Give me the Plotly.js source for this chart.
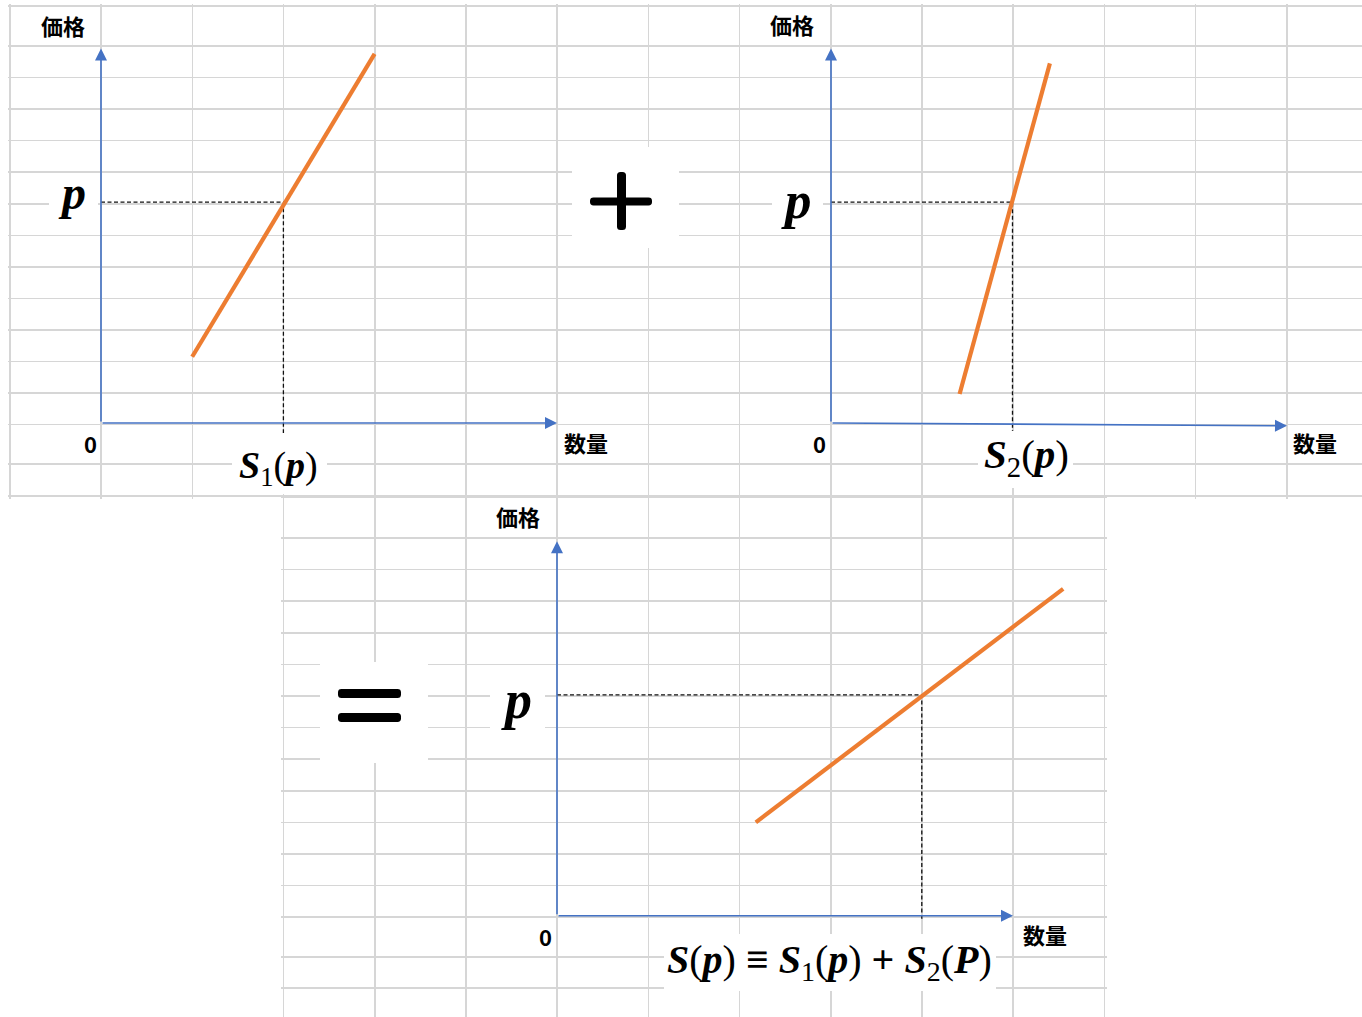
<!DOCTYPE html>
<html>
<head>
<meta charset="utf-8">
<script src="https://cdn.plot.ly/plotly-3.0.1.min.js"></script>
<style>
  html, body { margin: 0; padding: 0; background: #fff; }
  #chart { width: 1362px; height: 1017px; }
</style>
</head>
<body>
<div id="chart"></div>
<script>
// supply curves, quantity vs price (1 unit = one spreadsheet cell)
const qtyS1 = [1.0, 3.0];
const priceS1 = [2.1, 11.7];
const qtyS2 = [1.41, 2.4];
const priceS2 = [0.92, 11.4];
const qtySum = [2.18, 5.55];
const priceSum = [2.96, 10.36];

// the price p and the quantity each curve supplies at p
const pMark = 7;
const qAtP = [2.0, 1.99, 4.0];
const dashEnd = [-0.35, -0.25, -0.1];

// arrow axes
const axisQMax = 5;
const axisPMax = 11.87;
const xAxisDrop = [0, -0.09, 0];

const W = 1362, H = 1017;
const COL = 91.2, ROW = 31.55;
const ORANGE = '#ED7D31';
const BLUE = '#4472C4';
const GRID = '#d6d6d6';
const JP = '"Noto Sans CJK JP", "Noto Sans", sans-serif';
const SERIF = '"Liberation Serif", "DejaVu Serif", serif';

// pixel -> paper
const X = px => px / W;
const Y = py => 1 - py / H;

// spreadsheet cell edges
const topCols = [];
for (let k = 0; k <= 14; k++) topCols.push(10 + COL * k);
const topRows = [6, 46];
for (let k = 1; k <= 12; k++) topRows.push(46 + ROW * k);
topRows.push(464, 496);

const botCols = [];
for (let k = 0; k <= 9; k++) botCols.push(283.6 + COL * k);
const botRows = [497.5, 538];
for (let k = 1; k <= 12; k++) botRows.push(538 + 31.6 * k);
botRows.push(956.7, 988.2);

function gridAxis(domain, range, vals) {
    return {
        domain: domain, range: range, tickvals: vals,
        showgrid: true, gridcolor: GRID, gridwidth: 1.6,
        showticklabels: false, ticks: '', zeroline: false, showline: false,
        fixedrange: true
    };
}

// chart axes placed so the origin lands on a given pixel
function chartX(x0, anchor) {
    return { domain: [0, 1], range: [-x0 / COL, (W - x0) / COL], visible: false, anchor: anchor, fixedrange: true };
}
function chartY(y0, anchor) {
    return { domain: [0, 1], range: [-(H - y0) / ROW, y0 / ROW], visible: false, anchor: anchor, fixedrange: true };
}

const charts = [
    { xa: 'x3', ya: 'y3', q: qtyS1, p: priceS1 },
    { xa: 'x4', ya: 'y4', q: qtyS2, p: priceS2 },
    { xa: 'x5', ya: 'y5', q: qtySum, p: priceSum }
];

const traces = [
    { x: [], y: [], xaxis: 'x', yaxis: 'y', type: 'scatter' },
    { x: [], y: [], xaxis: 'x2', yaxis: 'y2', type: 'scatter' }
];

charts.forEach((c, i) => {
    traces.push({
        x: [0, qAtP[i], qAtP[i]], y: [pMark, pMark, dashEnd[i]],
        xaxis: c.xa, yaxis: c.ya, type: 'scatter', mode: 'lines',
        line: { color: '#111', width: 1.3, dash: '4px,2.5px' }, cliponaxis: false
    });
    traces.push({
        x: c.q, y: c.p, xaxis: c.xa, yaxis: c.ya, type: 'scatter', mode: 'lines',
        line: { color: ORANGE, width: 4.2 }, cliponaxis: false
    });
});

const annotations = [];

// axis arrows
charts.forEach((c, i) => {
    const common = {
        xref: c.xa, yref: c.ya, axref: c.xa, ayref: c.ya, text: '',
        showarrow: true, arrowhead: 2, arrowsize: 1.5, arrowwidth: 1.6,
        arrowcolor: BLUE, standoff: 0, startstandoff: 0
    };
    annotations.push(Object.assign({}, common, { x: 0, y: axisPMax, ax: 0, ay: 0 }));
    annotations.push(Object.assign({}, common, { x: axisQMax, y: xAxisDrop[i], ax: 0, ay: 0 }));
});

function label(text, cx, cy, size, family) {
    annotations.push({
        xref: 'paper', yref: 'paper', x: X(cx), y: Y(cy),
        xanchor: 'center', yanchor: 'middle', showarrow: false,
        text: text, font: { family: family, size: size, color: '#000' }
    });
}

// cell texts
[[62.5, 25], [792, 24], [517.5, 516]].forEach(([x, y]) => label('<b>価格</b>', x, y, 22, JP));
[[585.5, 441.5], [1315, 441.5], [1044.5, 933.5]].forEach(([x, y]) => label('<b>数量</b>', x, y, 22, JP));
[[90, 443], [819, 443], [545, 935.5]].forEach(([x, y]) => label('<b>0</b>', x, y, 22, JP));

// math labels
const bp = '<b><i>p</i></b>';
const bS = '<b><i>S</i></b>';
label(bp, 72, 193, 48, SERIF);
label(bp, 796.5, 200, 53, SERIF);
label(bp, 516.5, 700, 54, SERIF);
label(bS + '<sub>1</sub>(' + bp + ')', 278.5, 468, 38, SERIF);
label(bS + '<sub>2</sub>(' + bp + ')', 1026, 457, 41, SERIF);
label(bS + '(' + bp + ') <b>≡</b> ' + bS + '<sub>1</sub>(' + bp + ') <b>+</b> ' + bS + '<sub>2</sub>(<b><i>P</i></b>)', 829.5, 962, 40, SERIF);

// white boxes behind pasted labels
function box(x0, y0, x1, y1) {
    return {
        type: 'rect', xref: 'paper', yref: 'paper', layer: 'above',
        x0: X(x0), x1: X(x1), y0: Y(y1), y1: Y(y0),
        fillcolor: '#fff', line: { width: 0 }
    };
}
// rounded black bar (for + and =)
function bar(x0, y0, x1, y1, r) {
    const pts = [
        ['M', x0 + r, y0], ['L', x1 - r, y0], ['Q', x1, y0, x1, y0 + r],
        ['L', x1, y1 - r], ['Q', x1, y1, x1 - r, y1], ['L', x0 + r, y1],
        ['Q', x0, y1, x0, y1 - r], ['L', x0, y0 + r], ['Q', x0, y0, x0 + r, y0]
    ];
    let d = '';
    pts.forEach(p => {
        d += p[0];
        for (let k = 1; k < p.length; k += 2) d += ' ' + X(p[k]).toFixed(5) + ',' + Y(p[k + 1]).toFixed(5);
        d += ' ';
    });
    return {
        type: 'path', xref: 'paper', yref: 'paper', layer: 'above', path: d + 'Z',
        fillcolor: '#000', line: { width: 0 }
    };
}

const shapes = [
    box(572, 147, 679, 248),
    box(320, 662, 428, 763),
    box(49, 175, 98, 233),
    box(772, 175, 823, 233),
    box(490, 666, 545, 757),
    box(232, 433, 327, 494),
    box(978, 431, 1073, 488),
    box(664, 934, 996, 991),
    bar(590, 197.5, 652, 205.5, 3.5),
    bar(617, 172, 626, 230, 3.5),
    bar(338, 689, 401, 698, 3.5),
    bar(338, 713, 401, 722, 3.5)
];

const layout = {
    width: W, height: H,
    margin: { l: 0, r: 0, t: 0, b: 0 },
    paper_bgcolor: '#fff', plot_bgcolor: 'rgba(0,0,0,0)',
    showlegend: false,
    xaxis: Object.assign(gridAxis([8 / W, 1], [8, W], topCols), { anchor: 'y' }),
    yaxis: Object.assign(gridAxis([1 - 499 / H, 1 - 4 / H], [499, 4], topRows), { anchor: 'x' }),
    xaxis2: Object.assign(gridAxis([281 / W, 1107 / W], [281, 1107], botCols), { anchor: 'y2' }),
    yaxis2: Object.assign(gridAxis([0, 1 - 495.5 / H], [H, 495.5], botRows), { anchor: 'x2' }),
    xaxis3: chartX(101, 'y3'), yaxis3: chartY(423, 'x3'),
    xaxis4: chartX(831, 'y4'), yaxis4: chartY(423, 'x4'),
    xaxis5: chartX(557, 'y5'), yaxis5: chartY(915.7, 'x5'),
    annotations: annotations,
    shapes: shapes
};

Plotly.newPlot('chart', traces, layout, { staticPlot: true, displayModeBar: false })
    .catch(err => console.error('Error rendering plot:', err));
</script>
</body>
</html>
